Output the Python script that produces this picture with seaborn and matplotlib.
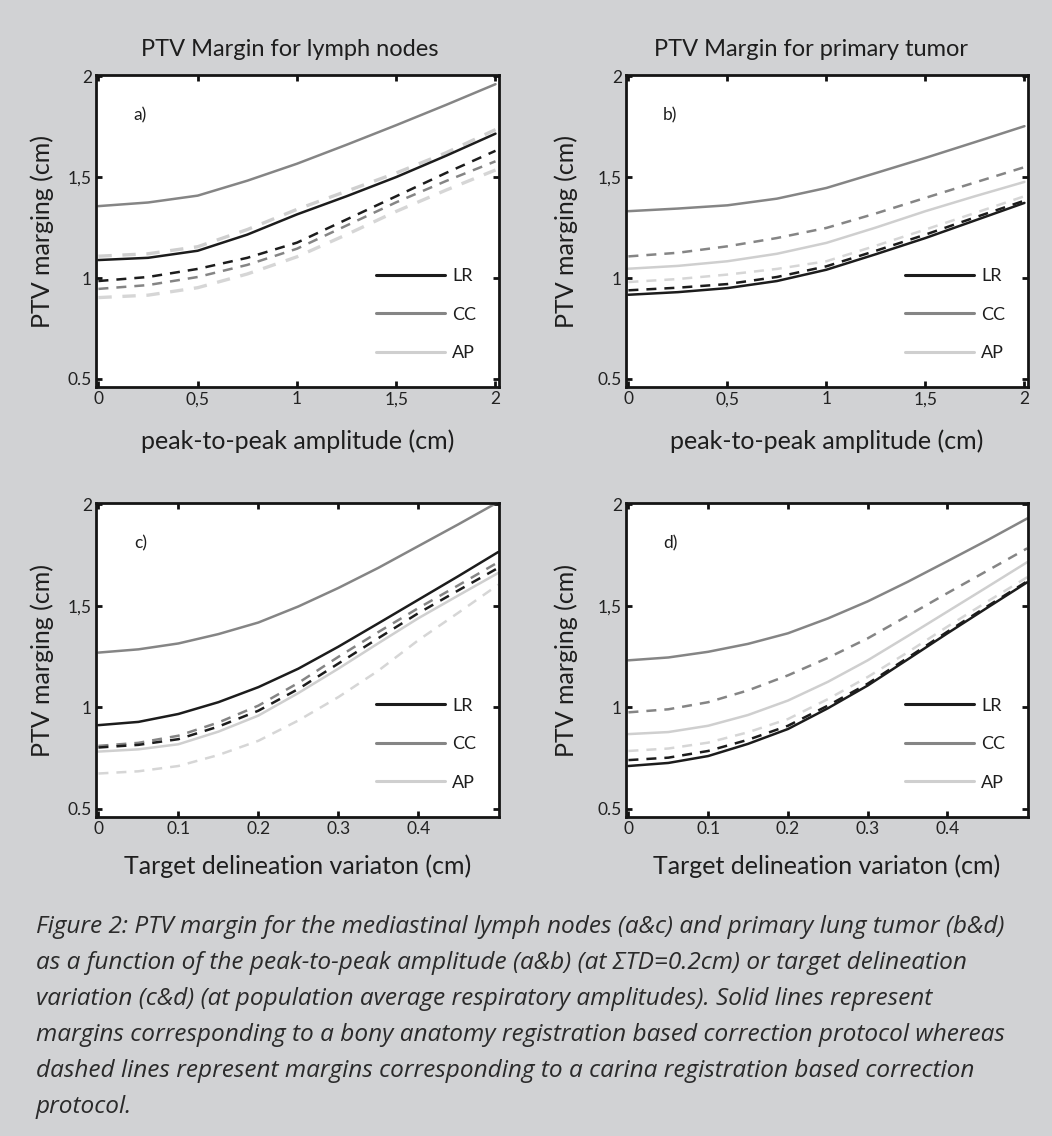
import matplotlib
matplotlib.use('Agg')
import matplotlib.pyplot as plt
from matplotlib.lines import Line2D
import pandas as pd
import seaborn as sns

# x grids
amplitude = [0, 0.25, 0.5, 0.75, 1, 1.25, 1.5, 1.75, 2]
td_variation = [0, 0.05, 0.1, 0.15, 0.2, 0.25, 0.3, 0.35, 0.4, 0.45, 0.5]

# a) lymph nodes vs peak-to-peak amplitude
a_lr_bony = [1.089, 1.100, 1.135, 1.215, 1.315, 1.405, 1.500, 1.605, 1.715]
a_cc_bony = [1.356, 1.374, 1.408, 1.482, 1.566, 1.660, 1.757, 1.857, 1.960]
a_ap_bony = [1.108, 1.120, 1.155, 1.240, 1.340, 1.430, 1.520, 1.620, 1.735]
a_lr_carina = [0.985, 1.005, 1.045, 1.100, 1.175, 1.290, 1.405, 1.520, 1.630]
a_cc_carina = [0.946, 0.965, 1.005, 1.065, 1.145, 1.260, 1.375, 1.480, 1.578]
a_ap_carina = [0.903, 0.915, 0.952, 1.020, 1.105, 1.215, 1.330, 1.435, 1.535]

# b) primary tumor vs peak-to-peak amplitude
b_lr_bony = [0.917, 0.930, 0.950, 0.985, 1.041, 1.118, 1.198, 1.285, 1.372]
b_cc_bony = [1.331, 1.344, 1.360, 1.393, 1.446, 1.520, 1.595, 1.673, 1.752]
b_ap_bony = [1.046, 1.060, 1.083, 1.120, 1.174, 1.250, 1.331, 1.405, 1.476]
b_lr_carina = [0.939, 0.952, 0.970, 1.005, 1.058, 1.135, 1.215, 1.300, 1.383]
b_cc_carina = [1.107, 1.125, 1.157, 1.198, 1.248, 1.320, 1.397, 1.473, 1.549]
b_ap_carina = [0.980, 0.995, 1.017, 1.045, 1.083, 1.160, 1.240, 1.322, 1.405]

# c) lymph nodes vs target delineation variation
c_lr_bony = [0.912, 0.928, 0.967, 1.025, 1.099, 1.190, 1.298, 1.413, 1.529, 1.645, 1.764]
c_cc_bony = [1.269, 1.285, 1.314, 1.360, 1.417, 1.496, 1.587, 1.686, 1.793, 1.900, 2.010]
c_ap_bony = [0.782, 0.793, 0.818, 0.880, 0.959, 1.070, 1.190, 1.315, 1.438, 1.550, 1.661]
c_lr_carina = [0.802, 0.815, 0.843, 0.905, 0.983, 1.090, 1.215, 1.340, 1.463, 1.575, 1.686]
c_cc_carina = [0.810, 0.825, 0.860, 0.925, 1.008, 1.120, 1.248, 1.370, 1.488, 1.600, 1.714]
c_ap_carina = [0.674, 0.685, 0.711, 0.765, 0.835, 0.935, 1.050, 1.180, 1.330, 1.465, 1.603]

# d) primary tumor vs target delineation variation
d_lr_bony = [0.711, 0.726, 0.760, 0.820, 0.893, 0.995, 1.107, 1.235, 1.364, 1.490, 1.615]
d_cc_bony = [1.231, 1.245, 1.273, 1.312, 1.364, 1.437, 1.521, 1.617, 1.719, 1.822, 1.929]
d_ap_bony = [0.868, 0.878, 0.909, 0.962, 1.033, 1.125, 1.231, 1.350, 1.471, 1.592, 1.714]
d_lr_carina = [0.740, 0.752, 0.785, 0.840, 0.909, 1.008, 1.116, 1.243, 1.372, 1.497, 1.620]
d_cc_carina = [0.975, 0.990, 1.025, 1.083, 1.157, 1.243, 1.339, 1.450, 1.562, 1.672, 1.782]
d_ap_carina = [0.785, 0.797, 0.826, 0.877, 0.942, 1.040, 1.149, 1.270, 1.397, 1.520, 1.640]

directions = ['LR', 'CC', 'AP']
y_ticks = [0.5, 1, 1.5, 2]
y_ticklabels = ['0.5', '1', '1,5', '2']
amp_ticks = [0, 0.5, 1, 1.5, 2]
amp_ticklabels = ['0', '0,5', '1', '1,5', '2']
td_ticks = [0, 0.1, 0.2, 0.3, 0.4]
td_ticklabels = ['0', '0.1', '0.2', '0.3', '0.4']

caption = [
    'Figure 2: PTV margin for the mediastinal lymph nodes (a&c) and primary lung tumor (b&d)',
    'as a function of the peak-to-peak amplitude (a&b) (at \u03a3TD=0.2cm) or target delineation',
    'variation (c&d) (at population average respiratory amplitudes). Solid lines represent',
    'margins corresponding to a bony anatomy registration based correction protocol whereas',
    'dashed lines represent margins corresponding to a carina registration based correction',
    'protocol.',
]

colors = {'LR': '#1c1c1c', 'CC': '#858585', 'AP': '#cfcfcf'}
dash = (0, (4, 3.2))

sns.set_style('ticks')
plt.rcParams['font.family'] = ['Lato', 'DejaVu Sans']
plt.rcParams['text.color'] = '#1e1e1e'
plt.rcParams['axes.labelcolor'] = '#1e1e1e'

bg = '#d1d2d4'
fig = plt.figure(figsize=(10.52, 11.36), dpi=100, facecolor=bg)

panels = [
    dict(tag='a)', pos=[0.0913, 0.6593, 0.3831, 0.2746], x=amplitude,
         bony=[a_lr_bony, a_cc_bony, a_ap_bony], carina=[a_lr_carina, a_cc_carina, a_ap_carina],
         title='PTV Margin for lymph nodes', title_x=0.481, xlabel='peak-to-peak amplitude (cm)'),
    dict(tag='b)', pos=[0.5951, 0.6593, 0.3821, 0.2746], x=amplitude,
         bony=[b_lr_bony, b_cc_bony, b_ap_bony], carina=[b_lr_carina, b_cc_carina, b_ap_carina],
         title='PTV Margin for primary tumor', title_x=0.46, xlabel='peak-to-peak amplitude (cm)'),
    dict(tag='c)', pos=[0.0913, 0.2808, 0.3831, 0.2764], x=td_variation,
         bony=[c_lr_bony, c_cc_bony, c_ap_bony], carina=[c_lr_carina, c_cc_carina, c_ap_carina],
         title=None, xlabel='Target delineation variaton (cm)'),
    dict(tag='d)', pos=[0.5951, 0.2808, 0.3821, 0.2764], x=td_variation,
         bony=[d_lr_bony, d_cc_bony, d_ap_bony], carina=[d_lr_carina, d_cc_carina, d_ap_carina],
         title=None, xlabel='Target delineation variaton (cm)'),
]

for p in panels:
    ax = fig.add_axes(p['pos'])
    ax.set_facecolor('white')
    # light series first so the dark ones sit on top
    for i in [2, 1, 0]:
        d = directions[i]
        ap_a = (p['tag'] == 'a)' and d == 'AP')
        sns.lineplot(x=p['x'], y=p['bony'][i], ax=ax, color=colors[d], lw=2.4 if ap_a else 1.8,
                     linestyle=dash if ap_a else '-', errorbar=None)
        sns.lineplot(x=p['x'], y=p['carina'][i], ax=ax, color='#d6d6d6' if d == 'AP' else colors[d],
                     lw=2.4 if d == 'AP' and p['tag'] == 'a)' else 1.8, linestyle=dash, errorbar=None)

    amp = p['x'] is amplitude
    if amp:
        ax.set_xlim(-0.012, 2.018)
        ax.set_xticks(amp_ticks)
        ax.set_xticklabels(amp_ticklabels)
    else:
        ax.set_xlim(-0.003, 0.501)
        ax.set_xticks(td_ticks)
        ax.set_xticklabels(td_ticklabels)
    ax.set_ylim(0.46, 2.005)
    ax.set_yticks(y_ticks)
    ax.set_yticklabels(y_ticklabels)
    ax.tick_params(direction='in', length=4, width=2, top=True, right=True,
                   labelsize=12.5, pad=3, colors='#111111', labelcolor='#222222')
    for s in ax.spines.values():
        s.set_linewidth(2)
        s.set_color('#151515')
        s.set_visible(True)

    ax.set_xlabel(p['xlabel'], fontsize=18)
    ax.set_ylabel('PTV marging (cm)', fontsize=18)
    ax.xaxis.set_label_coords(0.5, -0.135 if amp else -0.118)
    ax.yaxis.set_label_coords(-0.105 if p['tag'] in ('a)', 'c)') else -0.12, 0.5)
    if p['title']:
        ax.set_title(p['title'], fontsize=17, pad=14, x=p['title_x'])
    ax.text(0.11, 0.872, p['tag'], transform=ax.transAxes, fontsize=12.5,
            ha='center', va='center')

    handles = [Line2D([], [], color=colors[d], lw=2.2) for d in directions]
    ax.legend(handles, directions, loc='center left', bbox_to_anchor=(0.695, 0.232),
              frameon=False, fontsize=13, handlelength=3.8, handletextpad=0.4,
              labelspacing=1.25, borderpad=0, borderaxespad=0)

base = 1 - 933 / 1136
for k, line in enumerate(caption):
    fig.text(0.0342, base - k * 36 / 1136, line, fontsize=17.6, style='italic',
             family=['Open Sans', 'DejaVu Sans'], color='#2a2a2a', va='baseline', ha='left')

fig.savefig('out.png', dpi=100, facecolor=bg)
